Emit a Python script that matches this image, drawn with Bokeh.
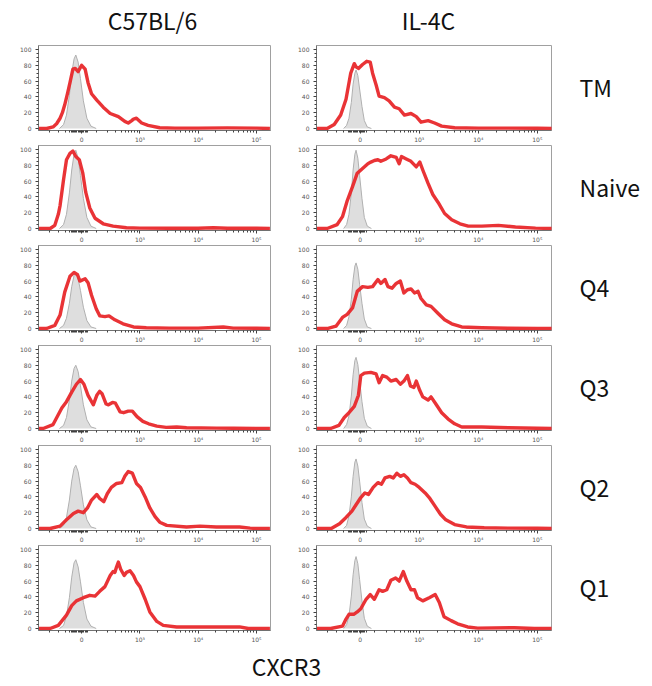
from bokeh.plotting import figure
from bokeh.layouts import column, row
from bokeh.models import FixedTicker, Label, Range1d
from bokeh.embed import file_html
from bokeh.resources import INLINE

# ---------------- data ----------------
COLUMNS = ["C57BL/6", "IL-4C"]
ROWS = ["TM", "Naive", "Q4", "Q3", "Q2", "Q1"]
AXIS_TITLE = "CXCR3"

# display scale: 2 -> 0, 3 -> 10^3, 4 -> 10^4, 5 -> 10^5
X_TICKS = [2, 3, 4, 5]
X_TICK_LABELS = ["0", "10³", "10⁴", "10⁵"]
Y_TICKS = [0, 20, 40, 60, 80, 100]
Y_TICK_LABELS = ["0", "20", "40", "60", "80", "100"]

# isotype / unstained control (grey) positions per column
CTRL_X_B6 = [1.62, 1.69, 1.74, 1.79, 1.83, 1.87, 1.90, 1.94, 1.98, 2.03, 2.09, 2.16, 2.25]
CTRL_X_IL4C = [1.72, 1.77, 1.81, 1.85, 1.88, 1.91, 1.93, 1.96, 1.99, 2.03, 2.07, 2.12, 2.19]

CTRL_B6_TM = [0, 5, 17, 42, 70, 88, 93, 84, 63, 35, 13, 3, 0]
CTRL_B6_NAIVE = [0, 5, 18, 45, 74, 94, 99, 89, 67, 38, 14, 3, 0]
CTRL_B6_Q4 = [0, 4, 13, 32, 53, 67, 70, 63, 48, 27, 10, 2, 0]
CTRL_B6_Q3 = [0, 4, 14, 36, 60, 76, 80, 72, 54, 30, 11, 2, 0]
CTRL_B6_Q2 = [0, 4, 14, 36, 60, 76, 80, 72, 54, 30, 11, 2, 0]
CTRL_B6_Q1 = [0, 4, 16, 39, 65, 83, 87, 78, 59, 33, 12, 3, 0]
CTRL_IL4C_TM = [0, 4, 13, 33, 56, 70, 74, 67, 50, 28, 10, 2, 0]
CTRL_IL4C_NAIVE = [0, 5, 18, 45, 74, 94, 99, 89, 67, 38, 14, 3, 0]
CTRL_IL4C_Q4 = [0, 4, 15, 37, 62, 79, 83, 75, 56, 32, 12, 2, 0]
CTRL_IL4C_Q3 = [0, 5, 16, 41, 68, 86, 90, 81, 61, 34, 13, 3, 0]
CTRL_IL4C_Q2 = [0, 4, 16, 40, 66, 84, 88, 79, 60, 33, 12, 3, 0]
CTRL_IL4C_Q1 = [0, 5, 16, 41, 68, 86, 91, 82, 62, 35, 13, 3, 0]

# CXCR3 stained samples (red): (display position, % of max)
B6_TM = [(1.26, 0), (1.40, 0), (1.51, 2), (1.57, 6), (1.63, 13), (1.67, 20), (1.71, 30), (1.76, 45),
         (1.80, 58), (1.85, 75), (1.89, 76), (1.94, 72), (2.00, 80), (2.06, 75), (2.11, 58), (2.17, 44),
         (2.26, 36), (2.37, 27), (2.49, 19), (2.63, 15), (2.74, 9), (2.80, 7), (2.86, 10), (2.89, 12),
         (2.94, 13), (3.03, 7), (3.14, 4), (3.34, 1), (3.60, 0.5), (4.0, 0.5), (4.5, 0.8), (5.0, 0.5), (5.23, 0)]
B6_NAIVE = [(1.26, 0), (1.46, 0), (1.54, 4), (1.60, 18), (1.63, 29), (1.69, 62), (1.74, 87), (1.80, 95),
            (1.85, 98), (1.90, 91), (1.96, 87), (2.02, 70), (2.07, 46), (2.14, 26), (2.23, 13), (2.37, 6),
            (2.54, 3), (2.77, 1), (3.0, 0.5), (3.5, 0.3), (4.0, 0.3), (4.26, 1), (4.5, 0.3), (5.0, 0.3), (5.23, 0)]
B6_Q4 = [(1.26, 0), (1.40, 0), (1.54, 4), (1.63, 17), (1.71, 46), (1.80, 66), (1.87, 71), (1.93, 68),
         (1.97, 60), (2.06, 63), (2.11, 58), (2.17, 42), (2.25, 25), (2.31, 16), (2.40, 15), (2.47, 16),
         (2.57, 11), (2.71, 6), (2.89, 2), (3.11, 1), (3.5, 0.5), (4.0, 0.5), (4.43, 2), (4.6, 0.5),
         (5.0, 0.3), (5.23, 0)]
B6_Q3 = [(1.26, 0), (1.34, 0), (1.51, 5), (1.66, 26), (1.74, 34), (1.83, 46), (1.91, 56), (1.98, 62),
         (2.04, 56), (2.11, 42), (2.20, 30), (2.26, 42), (2.31, 47), (2.35, 44), (2.42, 31), (2.46, 30),
         (2.53, 33), (2.58, 32), (2.66, 21), (2.72, 20), (2.80, 22), (2.87, 22), (2.95, 15), (3.05, 9),
         (3.15, 6), (3.29, 3), (3.45, 1.5), (3.63, 2), (3.80, 1), (4.31, 0.5), (4.6, 0.3), (5.0, 0), (5.23, 0)]
B6_Q2 = [(1.26, 0), (1.46, 0), (1.63, 3), (1.74, 11), (1.86, 19), (1.94, 22), (2.03, 20), (2.10, 26),
         (2.17, 36), (2.26, 43), (2.31, 38), (2.38, 34), (2.44, 44), (2.51, 52), (2.60, 57), (2.69, 58),
         (2.74, 66), (2.80, 72), (2.87, 70), (2.94, 57), (3.01, 52), (3.09, 40), (3.17, 26), (3.26, 15),
         (3.34, 8), (3.46, 4), (3.80, 2), (4.03, 3), (4.31, 2), (4.71, 2), (4.89, 0.5), (5.0, 0), (5.23, 0)]
B6_Q1 = [(1.26, 0), (1.46, 0), (1.60, 4), (1.74, 17), (1.83, 29), (1.91, 35), (2.03, 39), (2.14, 42),
         (2.23, 41), (2.31, 47), (2.40, 53), (2.49, 67), (2.54, 72), (2.57, 71), (2.60, 78), (2.63, 84),
         (2.67, 75), (2.73, 67), (2.77, 71), (2.83, 73), (2.89, 67), (2.94, 59), (3.00, 53), (3.09, 37),
         (3.17, 21), (3.29, 9), (3.40, 4), (3.63, 2), (4.20, 2), (4.43, 2), (4.71, 2), (4.86, 0), (5.23, 0)]
IL4C_TM = [(1.26, 0), (1.44, 0), (1.56, 5), (1.67, 17), (1.76, 37), (1.84, 70), (1.90, 82), (1.93, 78),
           (1.97, 76), (2.04, 81), (2.11, 85), (2.17, 84), (2.21, 70), (2.27, 55), (2.32, 41), (2.41, 39),
           (2.49, 35), (2.58, 27), (2.66, 25), (2.75, 17), (2.86, 19), (2.95, 15), (3.03, 8), (3.15, 10),
           (3.26, 7), (3.38, 3), (3.60, 1), (4.0, 0.5), (4.5, 0.5), (5.0, 0.3), (5.26, 0)]
IL4C_NAIVE = [(1.26, 0), (1.44, 0), (1.61, 5), (1.70, 15), (1.78, 35), (1.87, 53), (1.95, 70), (2.04, 76),
              (2.13, 82), (2.18, 84), (2.24, 86), (2.30, 87), (2.35, 85), (2.44, 88), (2.52, 92), (2.61, 90),
              (2.66, 82), (2.70, 91), (2.78, 88), (2.86, 85), (2.95, 78), (3.01, 84), (3.06, 74), (3.15, 57),
              (3.23, 43), (3.32, 33), (3.43, 19), (3.55, 11), (3.69, 6), (3.83, 3), (4.06, 3), (4.34, 4),
              (4.63, 2), (4.97, 0.5), (5.26, 0)]
IL4C_Q4 = [(1.26, 0), (1.44, 0), (1.59, 3), (1.70, 14), (1.78, 18), (1.87, 26), (1.95, 47), (2.04, 53),
           (2.13, 52), (2.21, 53), (2.30, 62), (2.35, 57), (2.42, 62), (2.47, 53), (2.54, 51), (2.61, 57),
           (2.68, 60), (2.74, 45), (2.80, 49), (2.86, 50), (2.92, 45), (2.98, 47), (3.03, 38), (3.12, 30),
           (3.20, 28), (3.32, 19), (3.43, 11), (3.55, 6), (3.72, 2), (4.06, 1), (4.5, 0.3), (5.0, 0), (5.26, 0)]
IL4C_Q3 = [(1.26, 0), (1.50, 0), (1.64, 4), (1.73, 14), (1.81, 20), (1.90, 28), (1.97, 42), (2.01, 67),
           (2.07, 70), (2.18, 71), (2.27, 69), (2.32, 58), (2.38, 67), (2.45, 65), (2.52, 60), (2.61, 62),
           (2.68, 56), (2.74, 60), (2.80, 67), (2.85, 54), (2.91, 52), (2.95, 60), (3.01, 48), (3.06, 40),
           (3.15, 36), (3.20, 40), (3.29, 30), (3.38, 20), (3.49, 12), (3.60, 6), (3.72, 2), (4.06, 2),
           (4.51, 1), (5.0, 0.3), (5.26, 0)]
IL4C_Q2 = [(1.26, 0), (1.51, 0), (1.65, 6), (1.76, 14), (1.86, 22), (1.93, 30), (2.00, 38), (2.08, 45),
           (2.14, 43), (2.22, 52), (2.30, 58), (2.36, 56), (2.42, 64), (2.50, 66), (2.56, 64), (2.62, 70),
           (2.68, 66), (2.74, 68), (2.80, 64), (2.86, 58), (2.93, 56), (3.00, 52), (3.10, 45), (3.18, 38),
           (3.27, 28), (3.36, 18), (3.45, 11), (3.60, 5), (3.80, 2), (4.1, 1), (4.5, 0.5), (5.0, 0.3), (5.26, 0)]
IL4C_Q1 = [(1.26, 0), (1.50, 0), (1.70, 3), (1.76, 12), (1.81, 18), (1.89, 18), (1.95, 21), (2.01, 25),
           (2.10, 37), (2.17, 43), (2.24, 37), (2.32, 49), (2.38, 47), (2.45, 49), (2.52, 61), (2.60, 64),
           (2.66, 60), (2.73, 72), (2.79, 60), (2.86, 49), (2.92, 49), (2.97, 39), (3.06, 35), (3.17, 39),
           (3.27, 43), (3.34, 33), (3.42, 15), (3.54, 10), (3.65, 6), (3.82, 2), (3.99, 0.5), (4.61, 1),
           (4.95, 0), (5.26, 0)]

SAMPLES = {
    "C57BL/6": [B6_TM, B6_NAIVE, B6_Q4, B6_Q3, B6_Q2, B6_Q1],
    "IL-4C": [IL4C_TM, IL4C_NAIVE, IL4C_Q4, IL4C_Q3, IL4C_Q2, IL4C_Q1],
}
CONTROLS = {
    "C57BL/6": (CTRL_X_B6, [CTRL_B6_TM, CTRL_B6_NAIVE, CTRL_B6_Q4, CTRL_B6_Q3, CTRL_B6_Q2, CTRL_B6_Q1]),
    "IL-4C": (CTRL_X_IL4C, [CTRL_IL4C_TM, CTRL_IL4C_NAIVE, CTRL_IL4C_Q4, CTRL_IL4C_Q3, CTRL_IL4C_Q2, CTRL_IL4C_Q1]),
}

# ---------------- styling ----------------
X_MINOR = ([1.45, 1.60, 1.72] + [round(1.80 + 0.02 * i, 2) for i in range(16)]
           + [2.25, 2.45, 2.58, 2.68, 2.75, 2.81, 2.86, 2.91, 2.95]
           + [3.301, 3.477, 3.602, 3.699, 3.778, 3.845, 3.903, 3.954]
           + [4.301, 4.477, 4.602, 4.699, 4.778, 4.845, 4.903, 4.954])
Y_MINOR = [5, 10, 15, 25, 30, 35, 45, 50, 55, 65, 70, 75, 85, 90, 95]

RED = "#e8282b"
FONT = "Noto Sans CJK KR"
BIG = "23px"
ROW_H = 100


def make_panel(col_name, r, width, border_right):
    p = figure(width=width, height=ROW_H, x_range=Range1d(1.26, 5.24), y_range=Range1d(-2.5, 105),
               output_backend="svg", toolbar_location=None,
               min_border_left=38, min_border_right=border_right, min_border_top=0, min_border_bottom=13)
    p.grid.visible = False
    p.background_fill_color = "white"
    p.border_fill_color = "white"
    p.outline_line_color = "#a0a0a0"
    p.xaxis.ticker = FixedTicker(ticks=X_TICKS, minor_ticks=X_MINOR)
    p.xaxis.major_label_overrides = {t: l for t, l in zip(X_TICKS, X_TICK_LABELS)}
    p.yaxis.ticker = FixedTicker(ticks=Y_TICKS, minor_ticks=Y_MINOR)
    p.yaxis.major_label_overrides = {t: l for t, l in zip(Y_TICKS, Y_TICK_LABELS)}
    for ax in (p.xaxis, p.yaxis):
        ax.major_label_text_font_size = "6px"
        ax.major_label_text_color = "#555555"
        ax.major_label_text_font = "DejaVu Sans"
        ax.axis_line_color = "#707070"
        ax.major_tick_line_color = "#404040"
        ax.minor_tick_line_color = "#404040"
        ax.major_tick_out = 3
        ax.major_tick_in = 0
        ax.minor_tick_out = 2
        ax.minor_tick_in = 0
    p.xaxis.major_label_standoff = 2
    p.yaxis.major_label_standoff = 4

    cx, cys = CONTROLS[col_name]
    cy = cys[r]
    p.varea(x=cx, y1=[0] * len(cx), y2=cy, fill_color="#dedede")
    p.line(cx, cy, line_color="#b0b0b0", line_width=1)

    pts = SAMPLES[col_name][r]
    xs = [a for a, b in pts]
    ys = [b for a, b in pts]
    p.line(xs, ys, line_color=RED, line_width=3.4, line_join="round", line_alpha=0.95)
    return p


def blank(width, height):
    f = figure(width=width, height=height, x_range=Range1d(0, width), y_range=Range1d(0, height),
               output_backend="svg", toolbar_location=None, x_axis_type=None, y_axis_type=None,
               min_border=0)
    f.grid.visible = False
    f.outline_line_color = None
    return f


header = blank(652, 45)
for name, cx in zip(COLUMNS, [152, 428]):
    header.add_layout(Label(x=cx, y=26, x_units="screen", y_units="screen", text=name,
                            text_font=FONT, text_font_size=BIG, text_color="#111111",
                            text_align="center", text_baseline="middle"))

rows = [header]
for r, rname in enumerate(ROWS):
    left = make_panel(COLUMNS[0], r, 278, 8)
    right = make_panel(COLUMNS[1], r, 278, 5)
    lab = blank(96, ROW_H)
    lab.add_layout(Label(x=23, y=44, x_units="screen", y_units="screen", text=rname,
                         text_font=FONT, text_font_size=BIG, text_color="#111111",
                         text_baseline="middle", text_align="left"))
    rows.append(row(left, right, lab, spacing=0))

footer = blank(652, 41)
footer.add_layout(Label(x=286, y=21, x_units="screen", y_units="screen", text=AXIS_TITLE,
                        text_font=FONT, text_font_size=BIG, text_color="#111111",
                        text_align="center", text_baseline="middle"))
rows.append(footer)

layout = column(*rows, spacing=0)
open("out.html", "w").write(file_html(layout, INLINE))
